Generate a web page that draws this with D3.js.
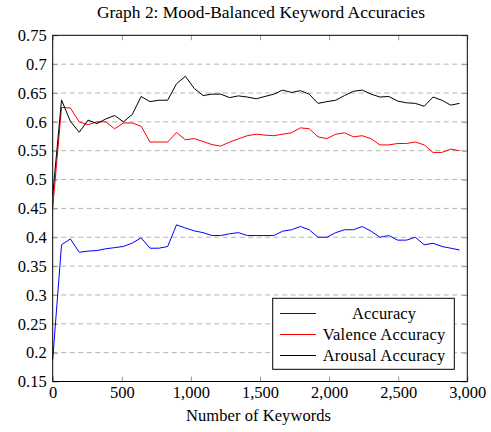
<!DOCTYPE html>
<html><head><meta charset="utf-8">
<script src="https://cdn.jsdelivr.net/npm/d3@7"></script>
<style>body{margin:0;background:#fff}svg{display:block}</style>
</head><body><svg id="c" width="491" height="432"></svg>
<script>
const keywordStep = 64;
const accuracy = [0.188,0.387,0.397,0.374,0.376,0.377,0.380,0.382,0.384,0.390,0.399,0.381,0.381,0.384,0.4215,0.416,0.411,0.408,0.403,0.403,0.406,0.408,0.403,0.403,0.403,0.403,0.4105,0.413,0.4186,0.413,0.400,0.400,0.408,0.413,0.413,0.4186,0.4105,0.400,0.403,0.395,0.395,0.400,0.387,0.3895,0.384,0.381,0.378];
const valence = [0.45,0.625,0.624,0.600,0.595,0.600,0.600,0.588,0.598,0.598,0.5925,0.565,0.565,0.565,0.5815,0.569,0.571,0.566,0.5606,0.558,0.565,0.5706,0.576,0.5786,0.577,0.576,0.5786,0.581,0.5896,0.588,0.574,0.571,0.5786,0.581,0.574,0.576,0.5706,0.560,0.560,0.5625,0.5625,0.565,0.560,0.547,0.547,0.5527,0.550];
const arousal = [0.472,0.638,0.601,0.582,0.603,0.597,0.605,0.611,0.600,0.613,0.644,0.635,0.6375,0.6375,0.666,0.679,0.658,0.6456,0.648,0.648,0.642,0.645,0.643,0.640,0.644,0.648,0.655,0.651,0.654,0.648,0.632,0.635,0.6375,0.6456,0.653,0.655,0.648,0.643,0.644,0.636,0.633,0.632,0.627,0.643,0.6375,0.629,0.632];
const seriesNames = ["Accuracy","Valence Accuracy","Arousal Accuracy"];
const seriesColors = ["#0000ff","#ff0000","#000000"];
const xTicks = [0,500,1000,1500,2000,2500,3000];
const yTicks = [0.15,0.2,0.25,0.3,0.35,0.4,0.45,0.5,0.55,0.6,0.65,0.7,0.75];
const titleText = "Graph 2: Mood-Balanced Keyword Accuracies";
const xLabel = "Number of Keywords";

const FONT = "'Liberation Serif','Times New Roman',Times,'DejaVu Serif',serif";
const svg = d3.select("#c");
const L=52.7,R=467.3,T=35.3,B=381.5;
const x = d3.scaleLinear().domain([0,3000]).range([L,R]);
const y = d3.scaleLinear().domain([0.15,0.75]).range([B,T]);

svg.append("g").selectAll("line").data(yTicks.slice(1,-1)).join("line")
  .attr("x1",L).attr("x2",R).attr("y1",d=>y(d)).attr("y2",d=>y(d))
  .attr("stroke","#b3b3b3").attr("stroke-width",1).attr("stroke-dasharray","5,3.5");

const fmtY = d=>String(+d.toFixed(2));
const fmtX = d3.format(",");
const ax = (gen, tr)=>{const g=svg.append("g").attr("transform",tr).call(gen);g.attr("font-family",FONT);g.select(".domain").remove();g.selectAll(".tick line").attr("stroke","#999");return g;};
const gb = ax(d3.axisBottom(x).tickValues(xTicks).tickFormat(fmtX).tickSizeInner(-5).tickPadding(5),`translate(0,${B})`);
gb.selectAll("text").style("font-family",FONT).attr("font-size",16.5);
ax(d3.axisTop(x).tickValues(xTicks).tickFormat("").tickSizeInner(-5),`translate(0,${T})`);
const gl = ax(d3.axisLeft(y).tickValues(yTicks).tickFormat(fmtY).tickSizeInner(-5).tickPadding(6),`translate(${L},0)`);
gl.selectAll("text").style("font-family",FONT).attr("font-size",16.5);
ax(d3.axisRight(y).tickValues(yTicks).tickFormat("").tickSizeInner(-5),`translate(${R},0)`);

const all=[accuracy,valence,arousal];
const line = d3.line().x((d,i)=>x(i*keywordStep)).y(d=>y(d));
svg.append("g").selectAll("path").data(all).join("path")
  .attr("d",line).attr("fill","none").attr("stroke",(d,i)=>seriesColors[i]).attr("stroke-width",1);

svg.append("rect").attr("x",L).attr("y",T).attr("width",R-L).attr("height",B-T)
  .attr("fill","none").attr("stroke","#000").attr("stroke-width",1);

const lg = svg.append("g");
lg.append("rect").attr("x",272.7).attr("y",298.3).attr("width",181.6).attr("height",71)
  .attr("fill","#fff").attr("stroke","#000").attr("stroke-width",1);
const legendWidths=[64,122.7,122.7];
seriesNames.forEach((n,i)=>{
  const yy = 313.5 + i*21;
  lg.append("line").attr("x1",280).attr("x2",316).attr("y1",yy).attr("y2",yy).attr("stroke",seriesColors[i]).attr("stroke-width",1.2);
  lg.append("text").attr("x",384).attr("y",yy+5.5).attr("text-anchor","middle").style("font-family",FONT).attr("font-size",16.5)
    .attr("textLength",legendWidths[i]).attr("lengthAdjust","spacing").text(n);
});

svg.append("text").attr("x",261).attr("y",18).attr("text-anchor","middle").style("font-family",FONT).attr("font-size",17.4)
  .attr("textLength",328).attr("lengthAdjust","spacing").text(titleText);
svg.append("text").attr("x",258.5).attr("y",421).attr("text-anchor","middle").style("font-family",FONT).attr("font-size",16.5)
  .attr("textLength",145).attr("lengthAdjust","spacing").text(xLabel);
</script></body></html>
